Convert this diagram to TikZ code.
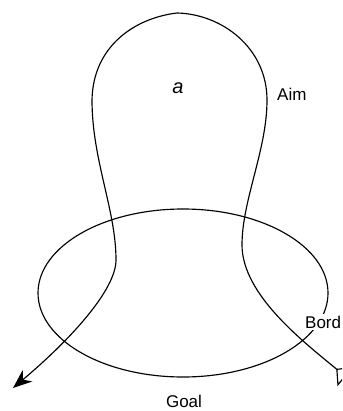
\documentclass[tikz,border=0pt]{standalone}
\usepackage{fontspec}
\setmainfont{Liberation Sans}
\usetikzlibrary{arrows.meta,shapes.geometric}
\tikzset{
  curve/.style={line width=1.15pt, black},
  lbl/.style={inner sep=0pt, font=\fontsize{17pt}{20pt}\selectfont},
}
\begin{document}
\begin{tikzpicture}[x=1pt,y=-1pt]
\useasboundingbox (0,0) rectangle (342,411);
\clip (0,0) rectangle (342,411);
% ellipse (Goal / Bord)
\node[draw, curve, ellipse, minimum width=290pt, minimum height=168pt, inner sep=0pt] (ell) at (183,293) {};
% the Aim curve
\coordinate (s) at (345.5,376.5);
\coordinate (b) at (242,245);
\coordinate (c) at (267,100);
\coordinate (top) at (177,13);
\coordinate (d) at (92,100);
\coordinate (f) at (116,260);
\coordinate (e) at (13,388);
\draw[curve, {Triangle[open,reversed,length=12pt,width=25pt]}-{Stealth[length=19pt,width=15pt,inset=6pt]}]
  (s) .. controls (305,343) and (242,295) .. (b)
      .. controls (242,200) and (267,150) .. (c)
      .. controls (267,48) and (222,14) .. (top)
      .. controls (135,18) and (93,46) .. (d)
      .. controls (92,160) and (116,210) .. (f)
      .. controls (116,290) and (70,340) .. (e);
% labels
\node[lbl, anchor=base, font=\fontsize{20pt}{24pt}\selectfont\itshape] (a) at (178,94) {a};
\node[lbl, anchor=base west] (aim) at (277,100.5) {Aim};
\node[lbl, anchor=base west, fill=white, inner sep=2pt] (bord) at (303,328) {Bord};
\node[lbl, anchor=base] (goal) at (184,407) {Goal};
\end{tikzpicture}
\end{document}
